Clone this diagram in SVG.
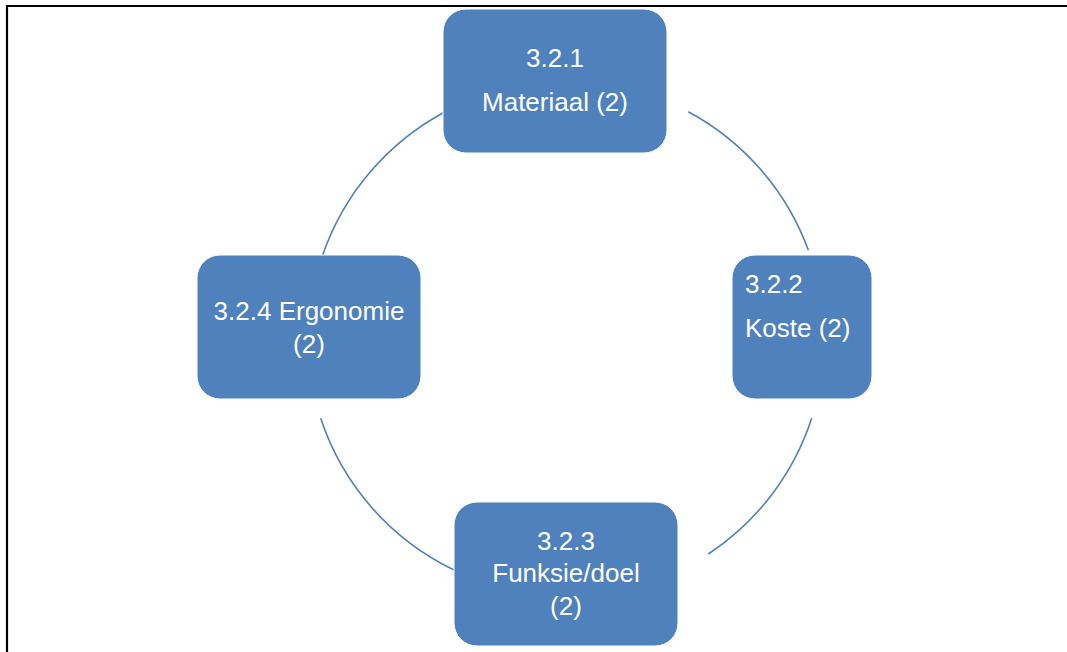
<svg xmlns="http://www.w3.org/2000/svg" width="1067" height="652" viewBox="0 0 1067 652">
<style>
.node{fill:#4F81BD;stroke:#ffffff;stroke-width:1}
.lbl{font-family:"Liberation Sans",Arial,sans-serif;font-size:26px;fill:#ffffff}
.mid{text-anchor:middle}
.arc{fill:none;stroke:#4F81BD;stroke-width:1.6}
.frame{stroke:#000000;stroke-width:2.2}
</style>
<rect width="1067" height="652" fill="#ffffff"/>
<g id="frame">
<line class="frame" x1="6" y1="6" x2="1067" y2="6"/>
<line class="frame" x1="7" y1="5" x2="7" y2="652"/>
</g>
<g id="connectors">
<path class="arc" d="M688.3,111.7 A258,258 0 0 1 808.3,250"/>
<path class="arc" d="M811.7,418.3 A258,258 0 0 1 708.3,554"/>
<path class="arc" d="M454,570 A258,258 0 0 1 320.7,418.3"/>
<path class="arc" d="M322.7,255 A258,258 0 0 1 443.3,112.7"/>
</g>
<g id="node-321">
<rect class="node" x="443" y="9" width="224" height="144" rx="23"/>
<text class="lbl mid" x="555" y="67">3.2.1</text>
<text class="lbl mid" x="555" y="111">Materiaal (2)</text>
</g>
<g id="node-322">
<rect class="node" x="732" y="255" width="140" height="144" rx="23"/>
<text class="lbl" x="745" y="293">3.2.2</text>
<text class="lbl" x="745" y="337">Koste (2)</text>
</g>
<g id="node-323">
<rect class="node" x="454" y="502" width="224" height="144" rx="23"/>
<text class="lbl mid" x="566" y="550">3.2.3</text>
<text class="lbl mid" x="566" y="582">Funksie/doel</text>
<text class="lbl mid" x="566" y="615">(2)</text>
</g>
<g id="node-324">
<rect class="node" x="197" y="255" width="224" height="144" rx="23"/>
<text class="lbl mid" x="309" y="320">3.2.4 Ergonomie</text>
<text class="lbl mid" x="309" y="353">(2)</text>
</g>
</svg>
